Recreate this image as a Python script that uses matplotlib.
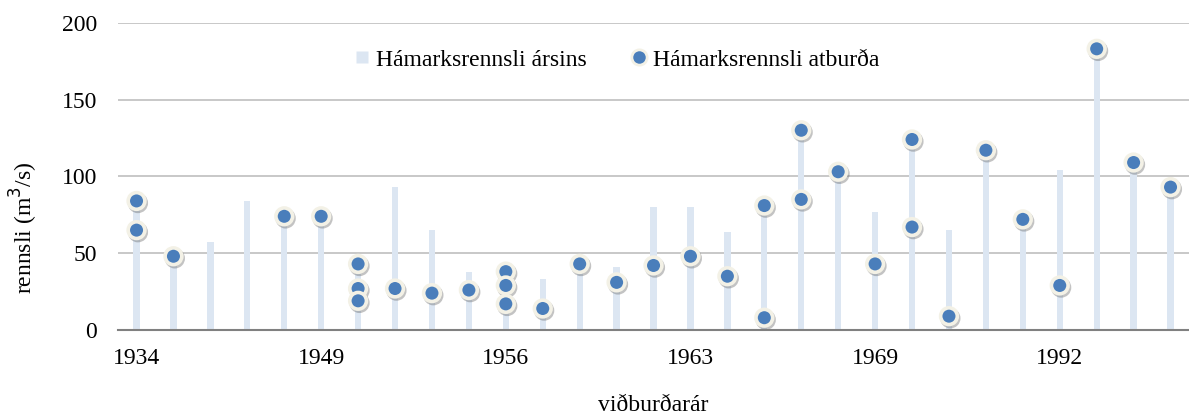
import numpy as np
import matplotlib.pyplot as plt
import matplotlib.patheffects as pe
from matplotlib.lines import Line2D

plt.rcParams['font.family'] = ['Liberation Serif', 'DejaVu Serif']

# annual peak flow, one bar per event year (29 categories)
bar_values = [84, 48, 57, 84, 74, 74, 43, 93, 65, 38,
              38, 33, 43, 41, 80, 80, 64, 81, 129, 103,
              77, 124, 65, 117, 72, 104, 183, 109, 93]

# peak flow of events: (category index, value)
event_idx = [0, 0, 1, 4, 5, 6, 6, 6, 7, 8,
             9, 10, 10, 10, 11, 12, 13, 14, 15, 16,
             17, 17, 18, 18, 19, 20, 21, 21, 22, 23,
             24, 25, 26, 27, 28]
event_values = [84, 65, 48, 74, 74, 43, 27, 19, 27, 24,
                26, 38, 29, 17, 14, 43, 31, 42, 48, 35,
                81, 8, 130, 85, 103, 43, 124, 67, 9, 117,
                72, 29, 183, 109, 93]

tick_pos = [0, 5, 10, 15, 20, 25]
tick_labels = ['1934', '1949', '1956', '1963', '1969', '1992']

bar_color = '#dce6f2'
dot_color = '#4a7ebb'
edge_color = '#f3f1e6'
fs = 17

fig = plt.figure(figsize=(11.89, 4.19), dpi=100)
ax = fig.add_axes([0.0993, 0.2124, 0.9007, 0.7334])

x = np.arange(len(bar_values))
ax.bar(x, bar_values, width=0.17, color=bar_color, zorder=2)

shadow = [pe.SimpleLineShadow(offset=(1, -1.5), shadow_color='#555555', alpha=0.35), pe.Normal()]
ax.plot(event_idx, event_values, linestyle='none', marker='o', markersize=12,
        markerfacecolor=dot_color, markeredgecolor=edge_color, markeredgewidth=2.6,
        zorder=3, path_effects=shadow)

ax.set_xlim(-0.5, len(bar_values) - 0.5)
ax.set_ylim(0, 200)
ax.set_yticks([0, 50, 100, 150, 200])
ax.set_xticks(tick_pos)
ax.set_xticklabels(tick_labels)
ax.tick_params(axis='both', length=0, labelsize=fs)
ax.tick_params(axis='x', pad=13)
ax.tick_params(axis='y', pad=15)
ax.yaxis.grid(True, color='#bfbfbf', linewidth=1.2, zorder=0)
ax.set_axisbelow(True)
for s in ['left', 'right', 'top']:
    ax.spines[s].set_visible(False)
ax.spines['bottom'].set_color('#808080')
ax.spines['bottom'].set_linewidth(1.5)
ax.spines['bottom'].set_zorder(4)

ax.set_xlabel('viðburðarár', fontsize=fs)
ax.xaxis.set_label_coords(0.5, -0.213)
fig.text(24 / 1189, 1 - 228 / 419, 'rennsli (m$^3$/s)', fontsize=fs,
         rotation=90, ha='center', va='center')

handles = [Line2D([], [], linestyle='none', marker='s', markersize=8,
                  markerfacecolor=bar_color, markeredgecolor='none'),
           Line2D([], [], linestyle='none', marker='o', markersize=11,
                  markerfacecolor=dot_color, markeredgecolor=edge_color, markeredgewidth=2)]
ax.legend(handles, ['Hámarksrennsli ársins', 'Hámarksrennsli atburða'],
          loc='center', bbox_to_anchor=(0.466, 0.879), ncol=2, frameon=False,
          fontsize=fs, handlelength=0.6, handletextpad=0.3, columnspacing=1.9)

fig.savefig('out.png', dpi=100)
